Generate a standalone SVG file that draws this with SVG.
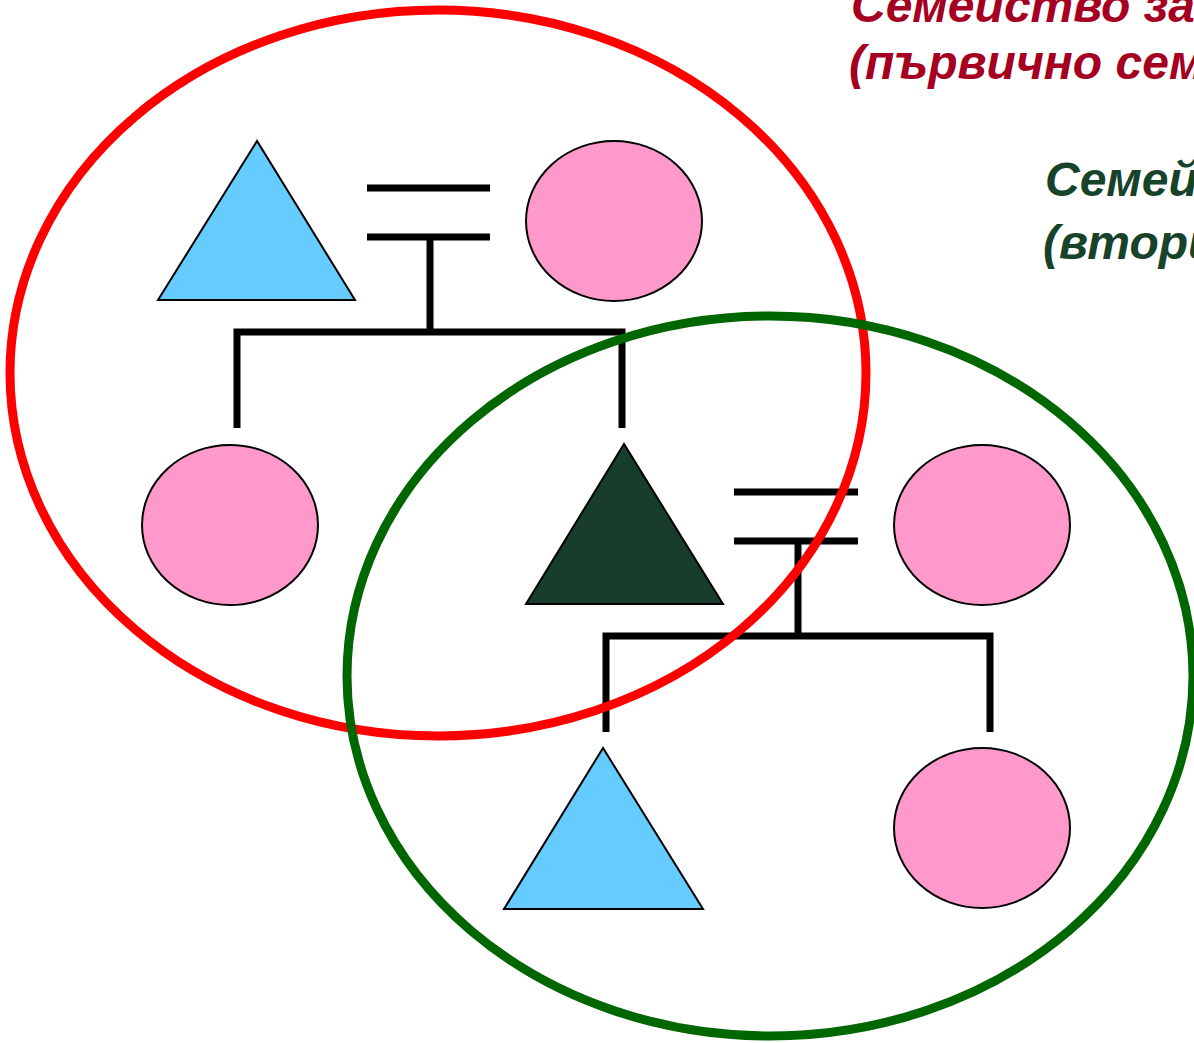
<svg xmlns="http://www.w3.org/2000/svg" width="1194" height="1043" viewBox="0 0 1194 1043">
<style>
.line{stroke:#000;stroke-width:7;fill:none}
.female{fill:#FF99CC;stroke:#000;stroke-width:2}
.male{fill:#66CCFF;stroke:#000;stroke-width:2}
.ego{fill:#193D2B;stroke:#000;stroke-width:2}
.t{font-family:"Liberation Sans",Arial,sans-serif;font-weight:bold;font-style:italic;font-size:48px}
</style>
<rect width="1194" height="1043" fill="#fff"/>
<g id="connectors">
<line class="line" x1="367" y1="188" x2="490" y2="188"/>
<line class="line" x1="367" y1="237" x2="490" y2="237"/>
<line class="line" x1="430" y1="237" x2="430" y2="332"/>
<polyline class="line" points="237,428 237,332 622,332 622,428"/>
<line class="line" x1="734" y1="492" x2="858" y2="492"/>
<line class="line" x1="734" y1="541" x2="858" y2="541"/>
<line class="line" x1="798" y1="541" x2="798" y2="636"/>
<polyline class="line" points="606,732 606,636 990,636 990,732"/>
</g>
<g id="grandfather"><polygon class="male" points="257,141 158,300 355,300"/></g>
<g id="grandmother"><ellipse class="female" cx="614" cy="221" rx="88" ry="80"/></g>
<g id="sister"><ellipse class="female" cx="230" cy="525" rx="88" ry="80"/></g>
<g id="ego"><polygon class="ego" points="624,444 526,604 723,604"/></g>
<g id="wife"><ellipse class="female" cx="982" cy="525" rx="88" ry="80"/></g>
<g id="son"><polygon class="male" points="603,748 504,909 703,909"/></g>
<g id="daughter"><ellipse class="female" cx="982" cy="828" rx="88" ry="80"/></g>
<g id="family-of-orientation"><ellipse cx="438" cy="373" rx="428" ry="363" fill="none" stroke="#FF0000" stroke-width="9"/></g>
<g id="family-of-procreation"><ellipse cx="770" cy="676" rx="423" ry="360" fill="none" stroke="#006600" stroke-width="9"/></g>
<g id="labels">
<text class="t" fill="#A50021" x="851" y="22">Семейство за</text>
<text class="t" fill="#A50021" x="849" y="79">(първично сем</text>
<text class="t" fill="#16432A" x="1045" y="196">Семей</text>
<text class="t" fill="#16432A" x="1043" y="259">(втори</text>
</g>
</svg>
